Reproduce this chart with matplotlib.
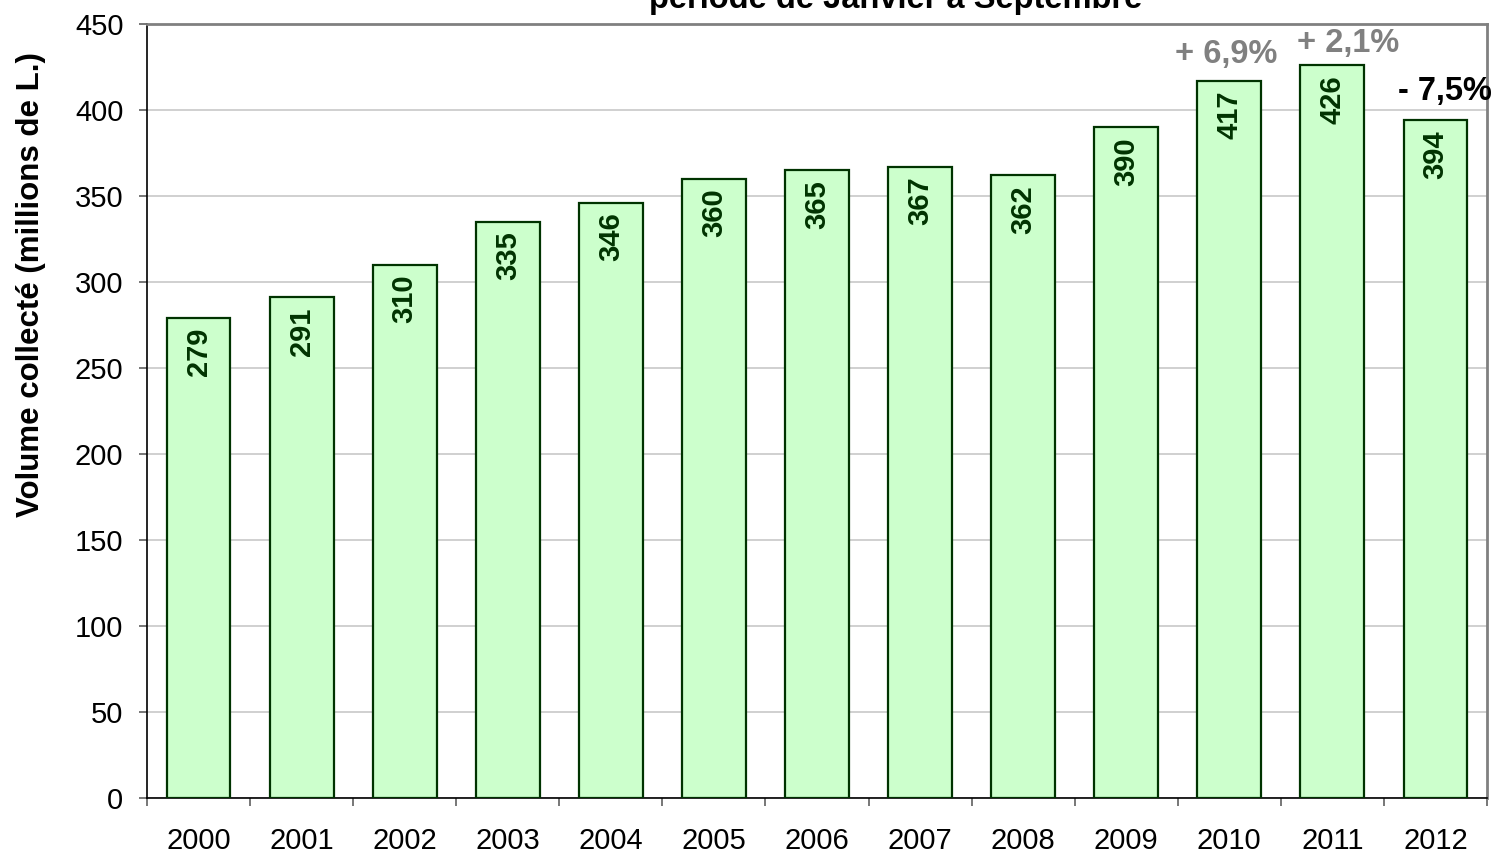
import matplotlib
matplotlib.use("Agg")
from matplotlib import pyplot as plt
from matplotlib.ticker import FixedLocator

# données : volume collecté, janvier à septembre (millions de L.)
annees = ['2000', '2001', '2002', '2003', '2004', '2005', '2006',
          '2007', '2008', '2009', '2010', '2011', '2012']
volumes = [279, 291, 310, 335, 346, 360, 365, 367, 362, 390, 417, 426, 394]

# variations affichées au-dessus des dernières années
var_annees = ['2010', '2011', '2012']
var_textes = ['+ 6,9%', '+ 2,1%', '- 7,5%']

# mise en page des étiquettes de variation (décalage en points)
var_couleurs = ['#808080', '#808080', '#000000']
var_decalages = [(-2, 19), (11, 16), (7, 21)]

plt.rcParams['font.family'] = ['Liberation Sans', 'DejaVu Sans']

fig = plt.figure(figsize=(14.95, 8.55), dpi=100)
ax = fig.add_axes([147 / 1495, 1 - 798 / 855, 1340 / 1495, 774 / 855])

x = list(range(len(annees)))
ax.bar(x, volumes, width=0.62, color='#CCFFCC',
       edgecolor='#003300', linewidth=1.6, zorder=3)

# valeurs dans les barres
for xi, v in zip(x, volumes):
    ax.annotate(str(v), (xi, v), xytext=(0, -7), textcoords='offset points',
                ha='center', va='top', rotation=90, fontsize=21,
                fontweight='bold', color='#003300', zorder=4)

# variations
for a, t, c, d in zip(var_annees, var_textes, var_couleurs, var_decalages):
    i = annees.index(a)
    ax.annotate(t, (i, volumes[i]), xytext=d, textcoords='offset points',
                ha='center', va='center', fontsize=23.5, fontweight='bold',
                color=c, zorder=5, annotation_clip=False)

ax.set_xlim(-0.5, len(annees) - 0.5)
ax.set_ylim(0, 450)
ax.set_yticks(range(0, 451, 50))
ax.set_xticks(x)
ax.set_xticklabels(annees)
ax.xaxis.set_minor_locator(FixedLocator([i - 0.5 for i in range(len(annees) + 1)]))

ax.tick_params(axis='x', which='major', length=0, pad=21, labelsize=21)
ax.tick_params(axis='x', which='minor', length=6, width=1.2, direction='out', color='#606060')
ax.tick_params(axis='y', length=6, width=1.2, direction='out', pad=11,
               labelsize=21, color='#606060')

ax.grid(axis='y', color='#c8c8c8', linewidth=1.2, zorder=0)
ax.set_axisbelow(True)

for s in ['top', 'right']:
    ax.spines[s].set_color('#808080')
    ax.spines[s].set_linewidth(2)
for s in ['left', 'bottom']:
    ax.spines[s].set_color('#000000')
    ax.spines[s].set_linewidth(1.2)

ax.set_ylabel('Volume collecté (millions de L.)', fontsize=22.5, fontweight='bold')
ax.yaxis.set_label_coords(-0.075, 0.663)

# titre (coupé en haut de l'image)
fig.text(896 / 1495, 1 - 8 / 855, 'période de Janvier à Septembre',
         ha='center', va='baseline', fontsize=23.5, fontweight='bold')

fig.savefig('out.png', dpi=100)
